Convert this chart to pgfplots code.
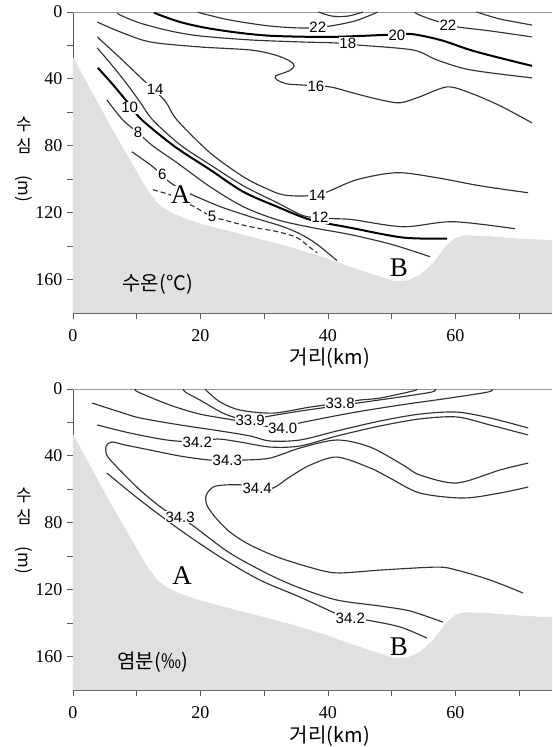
\documentclass[border=0pt]{standalone}
\usepackage{pgfplots}
\pgfplotsset{compat=1.18}
\usepackage{fontspec}
\setmainfont{Liberation Serif}
\newfontfamily\kr{Noto Sans CJK KR}
\newfontfamily\lab{Liberation Sans}
\definecolor{sea}{RGB}{224,224,224}
\tikzset{
  lb/.style={fill=white, inner sep=0.6pt, font=\lab\fontsize{15}{15}\selectfont},
  ab/.style={fill=white, inner sep=0pt, font=\fontsize{27}{27}\selectfont},
  cl/.style={black!80, line width=1.15pt, smooth},
  tl/.style={black, line width=2pt, smooth},
  frame/.style={black!40, line width=0.9pt},
}
\pgfplotsset{
  panel/.style={
    scale only axis, width=479pt, height=301pt,
    xmin=0, xmax=75.14, ymin=0, ymax=180, y dir=reverse,
    axis x line*=bottom, axis y line*=left,
    axis line style={black!65, line width=0.9pt, -},
    xtick={0,20,40,60}, minor xtick={10,30,50,70},
    ytick={0,40,...,160}, minor ytick={20,60,100,140},
    tick align=outside, major tick length=6pt, minor tick length=6pt,
    tick style={black!65, line width=0.9pt},
    ticklabel style={font=\fontsize{18}{18}\selectfont},
    xticklabel style={yshift=-7pt},
    yticklabel style={xshift=-1pt},
    /pgf/number format/assume math mode=true,
    clip=false,
  },
}
\pgfplotstableread{
x d
0 27
6 69
11.6 106
13.2 114
14.5 118
16 121
18 124
20 126.5
25 131.5
30 136.5
35 141.5
40 147.5
44 153
48 158
50.5 161
52.5 160.5
54.5 157
56.5 150
58.5 140
60 135
61.5 133.5
65 134
70 135.5
75.14 136.5
75.14 180
0 180
}\seafloor
\begin{document}
\begin{tikzpicture}
\useasboundingbox (0,0) rectangle (552pt,747pt);
% ================= Panel 1: temperature =================
\begin{axis}[panel, at={(73pt,434pt)}, anchor=south west]
\addplot[fill=sea, draw=none] table[x=x,y=d]{\seafloor} -- cycle;
\addplot[frame] coordinates {(0,0) (75.14,0)};
% 23 (small arc)
\addplot[cl] coordinates {(38.5,0) (40.3,2.2) (41.9,2.8) (43.5,2.2) (45.5,0)};
% 22
\addplot[cl] coordinates {(19.6,0) (20.2,0.8) (24.6,4.8) (30.9,8.4) (36.4,9.6) (40.3,8.4) (44.2,5.4) (47.1,1.2) (47.8,0)};
\addplot[cl] coordinates {(53.6,0) (54.0,1.2) (56.0,4.2) (58.8,7.4) (60.4,9.0) (65.4,11.3) (72.0,14.9)};
\addplot[cl] coordinates {(63.3,0) (63.8,0.6) (67.0,4.2) (72.0,7.8)};
% 20 (thick)
\addplot[tl] coordinates {(12.8,0.3) (13.2,1.2) (16.8,6.0) (21.0,9.6) (26.2,12.5) (31.4,14.3) (40.3,14.9) (48.9,13.7) (52.9,13.1) (57.6,16.7) (62.3,22.7) (67.0,27.5) (72.0,32.2)};
% 18
\addplot[cl] coordinates {(7.0,0.5) (7.4,1.8) (10.5,6.6) (15.2,11.3) (19.9,14.3) (27.8,16.7) (35.6,17.9) (41.1,18.5) (44.5,19.7) (53.3,22.7) (57.1,28.7) (62.3,34.6) (72.0,39.4)};
% 16
\addplot[cl] coordinates {(3.8,6.0) (7.4,11.9) (12.1,17.9) (19.9,20.9) (27.8,22.7) (31.7,25.7) (34.0,29.3) (34.7,32.2) (33.9,35.2) (31.8,38.2) (32.0,40.6) (33.6,43.0) (35.6,43.6) (40.3,44.8) (43.9,48.4) (48.2,52.5) (51.3,54.3) (54.4,50.7) (58.7,44.8) (62.3,48.4) (67.0,56.1) (72.0,66.3)};
% 14
\addplot[cl] coordinates {(3.8,14.9) (7.4,27.5) (11.0,40.6) (14.4,53) (16.3,64.5) (21.5,84.2) (26.7,98.5) (30,105) (32.9,109.3) (36.4,110.0) (39.5,108.1) (44.5,100.3) (50.8,96.1) (57.1,99.1) (63.8,103.9) (71.4,108.1)};
% 12
\addplot[cl] coordinates {(3.8,21.5) (5.8,30.4) (8.2,41.8) (10.5,53.7) (12.5,64.5) (16.8,79.4) (21.5,91.3) (26.7,103.9) (32.0,114.0) (36.1,121.8) (38.75,123.0) (41.1,123.6) (43.9,124.2) (51.8,128.4) (59.6,125.4) (69.3,129.6)};
% 10 (thick)
\addplot[tl] coordinates {(3.9,33.4) (6.3,43.6) (9.1,56.5) (10.8,64.5) (16.0,80.6) (21.5,94.3) (26.7,107.5) (32.0,116.4) (37.2,124.2) (43.5,129.0) (51.8,134.9) (58.7,135.5)};
% 8
\addplot[cl] coordinates {(5.3,52.5) (7.8,64.5) (10.2,72.2) (12.5,80) (16.3,90.1) (21.5,104.5) (26.7,116.4) (32.0,124.2) (37.6,129) (43.5,133.1) (50,139) (56.0,146.3)};
% 6
\addplot[cl] coordinates {(9.25,83.6) (12.1,91.3) (14.0,97.3) (14.9,101) (16.9,106) (18.7,109.3) (23.1,116.4) (27.8,122.4) (32.5,127.8) (35.2,131.9) (37.2,136.1) (38.75,140.3) (40.3,145.1) (41.4,148.7)};
% 5 (dashed)
\addplot[cl, dash pattern=on 5pt off 3pt] coordinates {(12.55,106.3) (15.2,109.3) (16.9,112.5) (18.7,115.8) (21.8,122.4) (23.5,124.2) (27.8,128.4) (32.0,131.3) (35.1,134.9) (37.2,140.9) (38.3,143.9)};
% labels
\node[lb] at (axis cs:38.4,9.2) {22};
\node[lb] at (axis cs:58.8,7.8) {22};
\node[lb] at (axis cs:50.8,13.7) {20};
\node[lb] at (axis cs:43.1,18.5) {18};
\node[lb] at (axis cs:38.1,44.2) {16};
\node[lb] at (axis cs:12.9,46.0) {14};
\node[lb] at (axis cs:38.3,109.5) {14};
\node[lb] at (axis cs:38.75,123.0) {12};
\node[lb] at (axis cs:8.9,57.3) {10};
\node[lb] at (axis cs:10.2,72.2) {8};
\node[lb] at (axis cs:14.0,97.3) {6};
\node[lb] at (axis cs:21.8,122.4) {5};
\node[ab] at (axis cs:16.9,109.3) {A};
\node[ab, fill=none] at (axis cs:51.1,152.8) {B};
\node[font=\kr\fontsize{20}{20}\selectfont] at (axis cs:13.3,163) {수온(°C)};
\node[font=\kr\fontsize{20}{20}\selectfont] at (axis cs:40.3,180) [yshift=-45pt] {거리(km)};
\node[anchor=north, align=center, font=\kr\fontsize{17}{22}\selectfont, inner sep=0pt] at (axis cs:-7.7,62.5) {수\\심\\[1pt]\rotatebox{-90}{(m)}};
\end{axis}
% ================= Panel 2: salinity =================
\begin{axis}[panel, at={(73pt,57pt)}, anchor=south west]
\addplot[fill=sea, draw=none] table[x=x,y=d]{\seafloor} -- cycle;
\addplot[frame] coordinates {(0,0) (75.14,0)};
% 33.8
\addplot[cl] coordinates {(20.8,0) (21.0,1.2) (23.1,7.8) (26.2,12.6) (31.4,14.4) (37.2,10.8) (41.9,8.4) (45.0,6.6) (48.2,5.4) (53.3,1.2) (54.0,0)};
% 33.9
\addplot[cl] coordinates {(17.3,0) (17.6,1.8) (19.9,6.6) (23.5,14.4) (26.2,17.9) (27.8,18.5) (30.1,16.7) (35.6,13.2) (43.5,9.0) (51.3,4.8) (56.3,1.8) (56.8,0)};
% 34.0
\addplot[cl] coordinates {(9.8,0) (10.2,1.8) (15.2,9.6) (19.9,15.0) (25.1,18.5) (30.1,22.1) (32.9,23.3) (35.6,20.3) (43.5,14.4) (51.3,9.6) (59.1,5.4) (65.1,1.8) (65.8,0)};
% 34.1
\addplot[cl] coordinates {(3.0,8.4) (7.4,13.8) (10.5,17.3) (16.8,21.5) (23.1,25.1) (27.8,28.1) (30.9,31.1) (35.6,30.5) (41.4,25.1) (48.2,19.1) (54.4,15.0) (60.2,13.8) (65.4,17.3) (71.4,23.3)};
% 34.2 upper
\addplot[cl] coordinates {(3.8,21.5) (8.9,26.3) (14.7,30.5) (19.5,31.7) (22.6,29.9) (26.2,31.7) (30.9,34.7) (35.6,34.1) (41.4,28.1) (48.2,22.1) (54.4,17.9) (60.2,16.7) (65.4,21.5) (71.4,27.5)};
% 34.3 hairpin
\addplot[cl] coordinates {(71.4,44.3) (67.0,48.4) (60.2,56.2) (54.4,51.4) (51.8,45.5) (46.6,34.7) (41.4,30.5) (35.6,35.3) (30.9,41.3) (26.7,42.5) (24.2,42.5) (21.5,42.5) (16.8,40.1) (12.1,36.5) (8.2,33.5) (6.1,31.7) (5.2,34.1) (5.3,39.5) (6.6,45.5) (10.5,60.4) (14.4,72.4) (16.8,76.6) (19.1,82.5) (24.6,98.1) (30.9,111.2) (35.6,119.0) (41.4,126.2) (48.2,129.8) (52.9,132.8) (58.0,139.4)};
% 34.2 lower
\addplot[cl] coordinates {(5.3,50.2) (10.5,66.4) (16.8,84.3) (23.1,100.5) (29.3,114.2) (35.6,124.4) (41.1,134.0) (43.5,137.0) (46.1,138.2) (51.3,142.3) (55.5,148.9)};
% 34.4
\addplot[cl] coordinates {(71.4,58.6) (67.0,62.2) (61.2,65.2) (54.4,62.2) (49.7,53.2) (46.6,47.2) (41.4,40.7) (37.2,45.5) (34.0,52.6) (31.4,59.2) (28.9,59.2) (26.7,57.4) (23.8,57.4) (22.0,58.6) (20.9,63.4) (21.0,69.4) (22.3,76.6) (24.6,85.5) (27.8,93.3) (32.5,101.1) (38.75,108.3) (41.9,110.0) (48.2,108.3) (57.1,106.5) (60.2,108.3) (65.4,114.2) (70.6,122.0)};
% labels
\node[lb] at (axis cs:41.9,8.4) {33.8};
\node[lb] at (axis cs:27.8,18.5) {33.9};
\node[lb] at (axis cs:32.9,23.3) {34.0};
\node[lb] at (axis cs:19.5,31.7) {34.2};
\node[lb] at (axis cs:24.2,42.5) {34.3};
\node[lb] at (axis cs:28.9,59.2) {34.4};
\node[lb] at (axis cs:16.8,76.6) {34.3};
\node[lb] at (axis cs:43.5,137.0) {34.2};
\node[ab, fill=none] at (axis cs:17.1,111.8) {A};
\node[ab, fill=none] at (axis cs:51.1,154.3) {B};
\node[font=\kr\fontsize{20}{20}\selectfont] at (axis cs:12.5,163.3) {염분(‰)};
\node[font=\kr\fontsize{20}{20}\selectfont] at (axis cs:40.3,180) [yshift=-46pt] {거리(km)};
\node[anchor=north, align=center, font=\kr\fontsize{17}{22}\selectfont, inner sep=0pt] at (axis cs:-7.7,59.2) {수\\심\\[1pt]\rotatebox{-90}{(m)}};
\end{axis}
\end{tikzpicture}
\end{document}
